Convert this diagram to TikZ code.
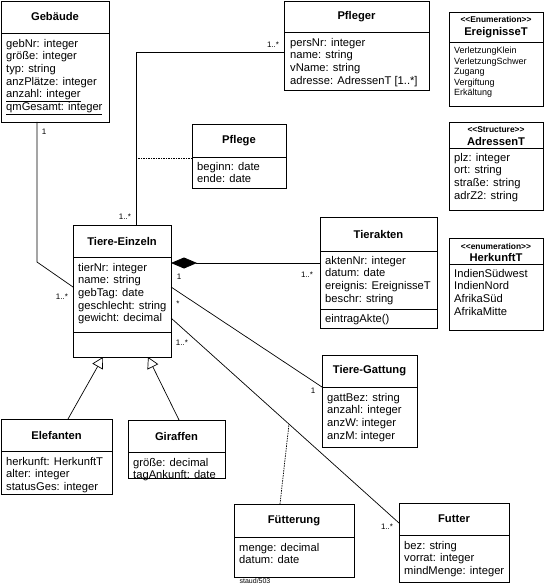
\documentclass[tikz,border=0pt]{standalone}
\usepackage{fontspec}
\setmainfont{Liberation Sans}
\usetikzlibrary{arrows.meta,calc}
\tikzset{
 classbox/.style={draw, line width=0.9pt, anchor=north west, inner sep=0pt, outer sep=0pt},
 boxline/.style={line width=0.9pt},
 ctitle/.style={font=\bfseries\fontsize{11.2}{13}\selectfont, inner sep=0pt},
 stereo/.style={font=\bfseries\fontsize{8.4}{9}\selectfont, inner sep=0pt},
 attrs/.style={anchor=north west, align=left, inner sep=0pt, font=\fontsize{11.2}{12.6}\selectfont},
 smallattrs/.style={anchor=north west, align=left, inner sep=0pt, font=\fontsize{9}{10.5}\selectfont},
 mult/.style={font=\fontsize{8}{9}\selectfont, inner sep=0pt},
 conn/.style={line width=0.7pt},
 assocclass/.style={line width=0.7pt, dash pattern=on 1.5pt off 1pt},
 gen/.style={conn, -{Triangle[open, length=11pt, width=12pt, line width=0.7pt]}},
 comp/.style={conn, {Diamond[length=26pt, width=11pt]}-},
}
\newcommand\stlt{\textless\kern0pt\textless}
\newcommand\stgt{\textgreater\kern0pt\textgreater}
% id, x, y, width, height, header height, title
\newcommand\umlclass[7]{%
 \node[classbox, minimum width=#4pt, minimum height=#5pt] (#1) at (#2,#3) {};
 \draw[boxline] ([yshift=-#6pt]#1.north west) -- ([yshift=-#6pt]#1.north east);
 \node[ctitle] (#1-t) at ([yshift={-#6pt/2}]#1.north) {#7};
}
\begin{document}
\begin{tikzpicture}[x=1pt, y=-1pt]
\useasboundingbox (0,0) rectangle (544,585);

% Gebaeude
\umlclass{geb}{1}{1}{108}{121}{32}{Gebäude}
\node[attrs] (geb-a) at ([xshift=5pt,yshift=-38pt]geb.north west)
 {gebNr: integer\\größe: integer\\typ: string\\anzPlätze: integer\\\underline{anzahl: integer}\\\underline{qmGesamt: integer}};

% Pfleger
\umlclass{pfl}{284}{1}{145}{89}{31}{Pfleger}
\node[attrs] (pfl-a) at ([xshift=6pt,yshift=-37pt]pfl.north west)
 {persNr: integer\\name: string\\vName: string\\adresse: AdressenT [1..*]};

% EreignisseT
\umlclass{ere}{449}{12}{94}{94}{30}{}
\node[stereo] (ere-s) at ([yshift=-8pt]ere.north) {\stlt Enumeration\stgt};
\node[ctitle] (ere-n) at ([yshift=-21pt]ere.north) {EreignisseT};
\node[smallattrs] (ere-a) at ([xshift=5pt,yshift=-35pt]ere.north west)
 {VerletzungKlein\\VerletzungSchwer\\Zugang\\Vergiftung\\Erkältung};

% AdressenT
\umlclass{adr}{449}{122}{94}{88}{26}{}
\node[stereo] (adr-s) at ([yshift=-8pt]adr.north) {\stlt Structure\stgt};
\node[ctitle] (adr-n) at ([yshift=-19pt]adr.north) {AdressenT};
\node[attrs] (adr-a) at ([xshift=5pt,yshift=-31pt]adr.north west)
 {plz: integer\\ort: string\\straße: string\\adrZ2: string};

% HerkunftT
\umlclass{her}{449}{238}{94}{92}{26}{}
\node[stereo] (her-s) at ([yshift=-8pt]her.north) {\stlt enumeration\stgt};
\node[ctitle] (her-n) at ([yshift=-19pt]her.north) {HerkunftT};
\node[attrs] (her-a) at ([xshift=5pt,yshift=-31pt]her.north west)
 {IndienSüdwest\\IndienNord\\AfrikaSüd\\AfrikaMitte};

% Tiere-Einzeln
\umlclass{tie}{73}{225}{98}{132}{32}{Tiere-Einzeln}
\draw[boxline] ([yshift=-107pt]tie.north west) -- ([yshift=-107pt]tie.north east);
\node[attrs] (tie-a) at ([xshift=5pt,yshift=-38pt]tie.north west)
 {tierNr: integer\\name: string\\gebTag: date\\geschlecht: string\\gewicht: decimal};

% Tierakten
\umlclass{akt}{320}{217}{117}{111}{34}{Tierakten}
\draw[boxline] ([yshift=-92pt]akt.north west) -- ([yshift=-92pt]akt.north east);
\node[attrs] (akt-a) at ([xshift=5pt,yshift=-39pt]akt.north west)
 {aktenNr: integer\\datum: date\\ereignis: EreignisseT\\beschr: string};
\node[attrs] (akt-o) at ([xshift=5pt,yshift=-97pt]akt.north west) {eintragAkte()};

% Pflege
\umlclass{pfg}{192}{124}{94}{64}{33}{Pflege}
\node[attrs] (pfg-a) at ([xshift=5pt,yshift=-38pt]pfg.north west)
 {beginn: date\\ende: date};

% Elefanten
\umlclass{ele}{1}{419}{111}{75}{32}{Elefanten}
\node[attrs] (ele-a) at ([xshift=5pt,yshift=-38pt]ele.north west)
 {herkunft: HerkunftT\\alter: integer\\statusGes: integer};

% Giraffen
\umlclass{gir}{128}{420}{97}{58}{32}{Giraffen}
\node[attrs] (gir-a) at ([xshift=5pt,yshift=-38pt]gir.north west)
 {größe: decimal\\tagAnkunft: date};

% Tiere-Gattung
\umlclass{gat}{322}{355}{95}{92}{32}{Tiere-Gattung}
\node[attrs] (gat-a) at ([xshift=5pt,yshift=-38pt]gat.north west)
 {gattBez: string\\anzahl: integer\\anzW: integer\\anzM: integer};

% Fuetterung
\umlclass{fut}{234}{504}{120}{73}{33}{Fütterung}
\node[attrs] (fut-a) at ([xshift=5pt,yshift=-39pt]fut.north west)
 {menge: decimal\\datum: date};

% Futter
\umlclass{fu}{399}{503}{110}{79}{32}{Futter}
\node[attrs] (fu-a) at ([xshift=5pt,yshift=-38pt]fu.north west)
 {bez: string\\vorrat: integer\\mindMenge: integer};

% ---------- connectors ----------
\draw[conn] ([xshift=36pt]geb.south west) -- ++(0,140) -- ([yshift=-62pt]tie.north west);
\draw[conn] ([yshift=-51pt]pfl.north west) -| ([xshift=63pt]tie.north west);
\coordinate (pv) at ([xshift=63pt]tie.north west);
\coordinate (pfgw) at ([yshift=-34pt]pfg.north west);
\draw[assocclass] (pfgw) -- (pfgw -| pv);

\draw[comp] ([yshift=-38pt]tie.north east) -- ([yshift=-46pt]akt.north west);
\draw[conn] ([yshift=-62pt]tie.north east) -- ([yshift=-32pt]gat.north west);
\coordinate (fa) at ([yshift=-93pt]tie.north east);
\coordinate (fb) at ([yshift=-20pt]fu.north west);
\draw[conn] (fa) -- (fb);
\draw[assocclass] ([xshift=46pt]fut.north west) -- ($(fa)!0.5175!(fb)$);

\draw[gen] ([xshift=67pt]ele.north west) -- ([xshift=30pt]tie.south west);
\draw[gen] ([xshift=51pt]gir.north west) -- ([xshift=75pt]tie.south west);

% ---------- multiplicities ----------
\node[mult] (m1) at (44,132) {1};
\node[mult] (m2) at (62,297) {1..*};
\node[mult] (m3) at (273,45) {1..*};
\node[mult] (m4) at (125,217) {1..*};
\node[mult] (m5) at (179,277) {1};
\node[mult] (m6) at (307,275) {1..*};
\node[mult] (m7) at (178,304) {*};
\node[mult] (m8) at (182,343) {1..*};
\node[mult] (m9) at (313,391) {1};
\node[mult] (m10) at (387,527) {1..*};

\node[font=\fontsize{7}{8}\selectfont, inner sep=0pt] (staud) at (255,581) {staud/503};
\end{tikzpicture}
\end{document}
